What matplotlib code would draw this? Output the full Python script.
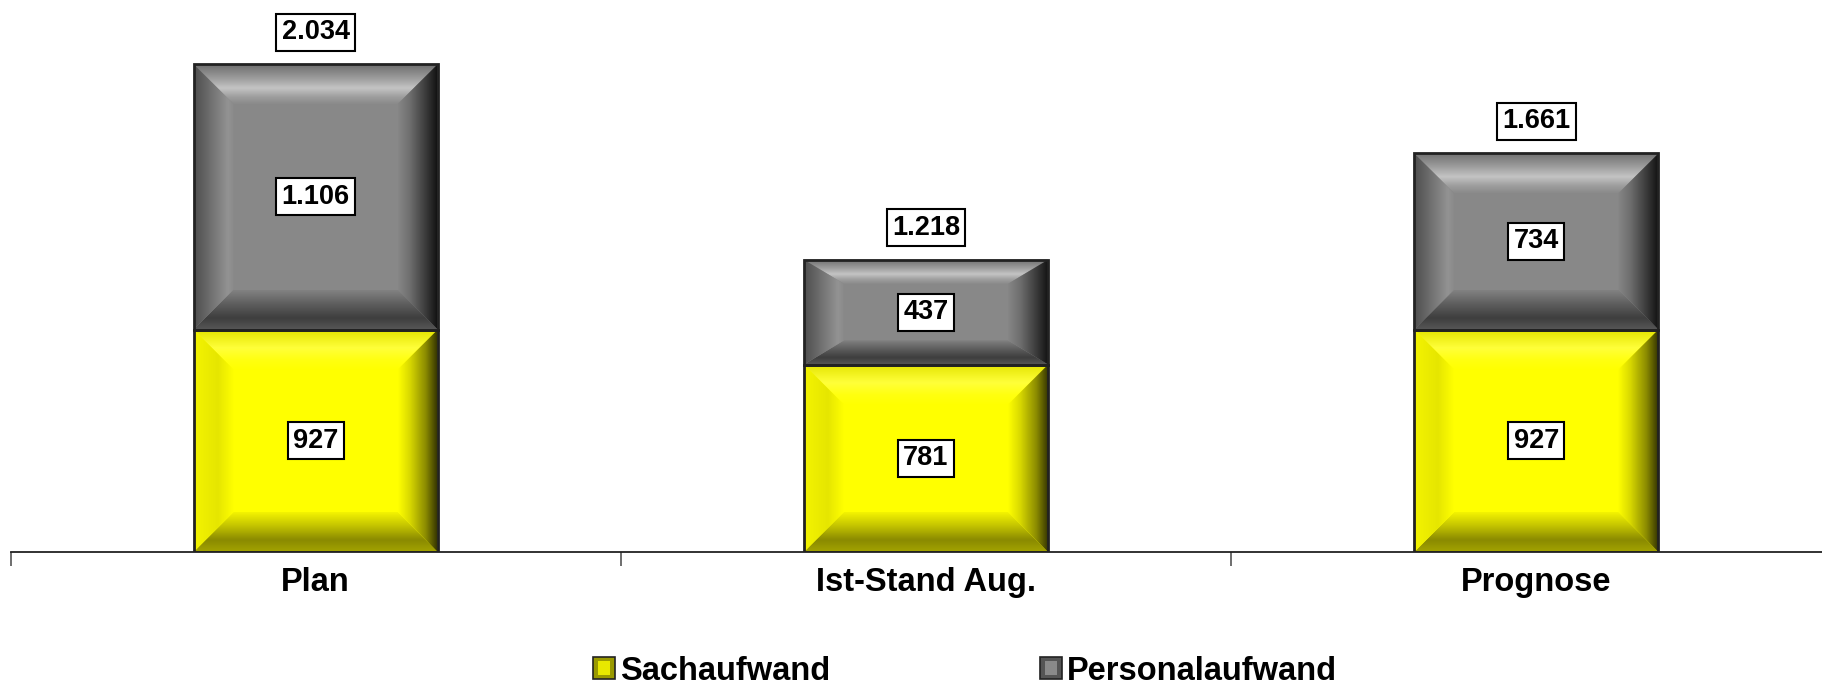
import numpy as np
import matplotlib
matplotlib.use("Agg")
import matplotlib.pyplot as plt
from matplotlib.patches import Polygon, Rectangle, Patch
from matplotlib.colors import LinearSegmentedColormap
from matplotlib.legend_handler import HandlerBase

plt.rcParams['font.family'] = ['Liberation Sans', 'DejaVu Sans']

categories = ["Plan", "Ist-Stand Aug.", "Prognose"]
sachaufwand = [927, 781, 927]
personalaufwand = [1106, 437, 734]
totals = ["2.034", "1.218", "1.661"]
seg_labels_sach = ["927", "781", "927"]
seg_labels_pers = ["1.106", "437", "734"]
series_names = ["Sachaufwand", "Personalaufwand"]

W, H = 1822, 685
fig = plt.figure(figsize=(W / 100, H / 100), dpi=100)
AX_W_PX = 1831
ax = fig.add_axes([10.5 / W, 133 / H, AX_W_PX / W, 552 / H])
XMIN, XMAX, YMIN, YMAX = -0.5, 2.5, 0, 2300
px_per_x = AX_W_PX / (XMAX - XMIN)
px_per_y = 552 / (YMAX - YMIN)

STYLES = {
    "yellow": dict(
        face="#ffff00",
        top=[(0, "#e4e400"), (0.45, "#ffff3a"), (0.75, "#ffff10"), (1, "#ffff00")],
        left=[(0, "#f4f400"), (0.6, "#e6e600"), (1, "#ffff00")],
        right=[(0, "#303000"), (0.3, "#8a8a00"), (0.7, "#d8d800"), (1, "#ffff00")],
        bottom=[(0, "#a4a400"), (0.3, "#8a8a00"), (0.7, "#caca00"), (1, "#f4f400")],
    ),
    "gray": dict(
        face="#888888",
        top=[(0, "#6c6c6c"), (0.35, "#9c9c9c"), (0.6, "#c4c4c4"), (0.82, "#9e9e9e"), (1, "#8a8a8a")],
        left=[(0, "#4e4e4e"), (0.35, "#6a6a6a"), (0.85, "#939393"), (1, "#8a8a8a")],
        right=[(0, "#101010"), (0.3, "#3a3a3a"), (0.7, "#6e6e6e"), (1, "#868686")],
        bottom=[(0, "#585858"), (0.3, "#3e3e3e"), (0.65, "#5e5e5e"), (1, "#828282")],
    ),
}


def grad_fill(ax, poly_pts, extent, stops, direction, reverse):
    cmap = LinearSegmentedColormap.from_list("g", stops)
    t = np.linspace(0, 1, 256)
    if reverse:
        t = t[::-1]
    img = t.reshape(-1, 1) if direction == "v" else t.reshape(1, -1)
    poly = Polygon(poly_pts, closed=True, fc="none", ec="none", transform=ax.transData)
    ax.add_patch(poly)
    im = ax.imshow(img, cmap=cmap, vmin=0, vmax=1, extent=extent, origin="lower",
                   aspect="auto", interpolation="bilinear", zorder=2)
    im.set_clip_path(poly)


def bevel_bar(ax, xc, width, y0, y1, style):
    s = STYLES[style]
    x0, x1 = xc - width / 2, xc + width / 2
    h_px = (y1 - y0) * px_per_y
    bx = 40 / px_per_x
    by = min(40, 0.23 * h_px) / px_per_y
    ax.add_patch(Rectangle((x0, y0), x1 - x0, y1 - y0, fc=s["face"], ec="none", zorder=1.5))
    grad_fill(ax, [(x0, y1), (x1, y1), (x1 - bx, y1 - by), (x0 + bx, y1 - by)],
              [x0, x1, y1 - by, y1], s["top"], "v", reverse=True)
    grad_fill(ax, [(x0, y0), (x1, y0), (x1 - bx, y0 + by), (x0 + bx, y0 + by)],
              [x0, x1, y0, y0 + by], s["bottom"], "v", reverse=False)
    grad_fill(ax, [(x0, y0), (x0 + bx, y0 + by), (x0 + bx, y1 - by), (x0, y1)],
              [x0, x0 + bx, y0, y1], s["left"], "h", reverse=False)
    grad_fill(ax, [(x1, y0), (x1 - bx, y0 + by), (x1 - bx, y1 - by), (x1, y1)],
              [x1 - bx, x1, y0, y1], s["right"], "h", reverse=True)
    ax.add_patch(Rectangle((x0, y0), x1 - x0, y1 - y0, fc="none", ec="#222222", lw=2, zorder=3))


x = np.arange(len(categories))
bar_w = 0.40
label_box = dict(boxstyle="square,pad=0.2", fc="white", ec="black", lw=1.5)
LBL_FS = 19.5

for i in range(len(categories)):
    s, p = sachaufwand[i], personalaufwand[i]
    bevel_bar(ax, x[i], bar_w, 0, s, "yellow")
    bevel_bar(ax, x[i], bar_w, s, s + p, "gray")
    ax.text(x[i], s / 2, seg_labels_sach[i], ha="center", va="center", fontsize=LBL_FS,
            fontweight="bold", bbox=label_box, zorder=5)
    ax.text(x[i], s + p / 2, seg_labels_pers[i], ha="center", va="center", fontsize=LBL_FS,
            fontweight="bold", bbox=label_box, zorder=5)
    ax.annotate(totals[i], xy=(x[i], s + p), xytext=(0, 23), textcoords="offset points",
                ha="center", va="center", fontsize=LBL_FS, fontweight="bold",
                bbox=label_box, zorder=5, annotation_clip=False)

ax.set_xlim(XMIN, XMAX)
ax.set_ylim(YMIN, YMAX)
for sp in ["top", "right", "left"]:
    ax.spines[sp].set_visible(False)
ax.spines["bottom"].set_color("#222222")
ax.spines["bottom"].set_linewidth(1.3)
ax.set_yticks([])
ax.set_xticks([-0.5, 0.5, 1.5, 2.5])
ax.set_xticklabels([])
ax.tick_params(axis="x", which="major", direction="out", length=10, width=1.2, color="#555555")
ax.set_xticks(x, minor=True)
ax.set_xticklabels(categories, minor=True, fontsize=23.5, fontweight="bold")
ax.tick_params(axis="x", which="minor", length=0, pad=11)


class BevelHandler(HandlerBase):
    def __init__(self, dark, face):
        super().__init__()
        self.dark, self.face = dark, face

    def create_artists(self, legend, orig_handle, xdescent, ydescent, width, height,
                       fontsize, trans):
        outer = Rectangle((-xdescent, -ydescent), width, height, fc=self.dark,
                          ec="#222222", lw=1.2, transform=trans)
        ins = width * 0.2
        inner = Rectangle((-xdescent + ins, -ydescent + ins), width - 2 * ins,
                          height - 2 * ins, fc=self.face, ec="none", transform=trans)
        return [outer, inner]


h_sach = Patch(fc="#ffff00")
h_pers = Patch(fc="#888888")
fig.legend([h_sach, h_pers], series_names, loc="center",
           bbox_to_anchor=(965 / W, 1 - 671 / H), ncol=2, frameon=False,
           prop=dict(size=23.5, weight="bold"), handlelength=0.65, handleheight=0.65,
           handletextpad=0.15, columnspacing=6.45,
           handler_map={h_sach: BevelHandler("#9a9a00", "#e8e800"),
                        h_pers: BevelHandler("#555555", "#8a8a8a")})

fig.savefig("out.png", dpi=100)
